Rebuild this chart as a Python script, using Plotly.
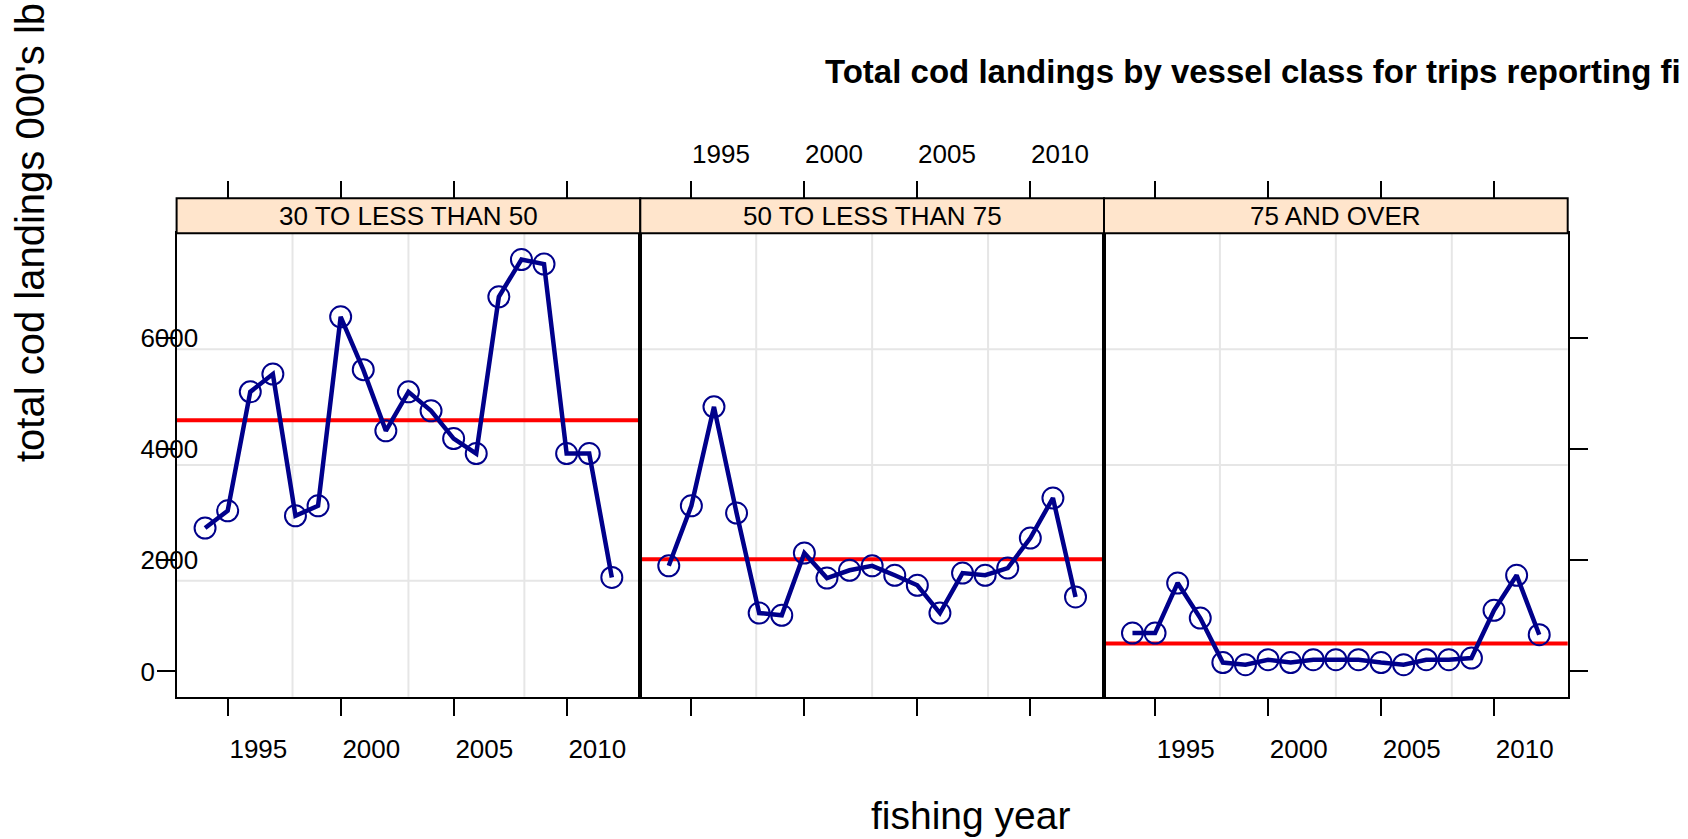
import plotly.graph_objects as go

# ---------------- data ----------------
years = list(range(1994, 2013))
panel_labels = ["30 TO LESS THAN 50", "50 TO LESS THAN 75", "75 AND OVER"]
landings_30_50 = [2580, 2890, 5030, 5350, 2800, 2980, 6380, 5430, 4330, 5030,
                  4690, 4190, 3920, 6740, 7410, 7330, 3920, 3920, 1690]
landings_50_75 = [1900, 2980, 4760, 2850, 1050, 1010, 2130, 1680, 1820, 1900,
                  1730, 1550, 1050, 1770, 1730, 1860, 2400, 3120, 1340]
landings_75_over = [690, 690, 1590, 960, 160, 120, 210, 160, 210, 210,
                    210, 160, 120, 210, 210, 240, 1100, 1730, 660]
panel_means = [4520, 2020, 500]
x_ticks = [1995, 2000, 2005, 2010]
y_ticks = [0, 2000, 4000, 6000]
x_range = [1992.74, 2013.26]
y_range = [-455, 7883]

title_text = "Total cod landings by vessel class for trips reporting fi"
x_title = "fishing year"
y_title = "total cod landings 000's lb"

# ---------------- geometry / style ----------------
W, H = 1688, 839
FONT = "Liberation Sans, Arial, sans-serif"
panel_left, panel_w = 176.6, 463.7
plot_top_px, plot_bot_px, strip_top_px = 233.3, 696.7, 198.3
y_dom = [(H - plot_bot_px) / H, (H - plot_top_px) / H]
strip_y = [(H - plot_top_px) / H, (H - strip_top_px) / H]
LINE_COL = "#00008B"
TICK_FONT = dict(size=26, color="black", family=FONT)

series = [landings_30_50, landings_50_75, landings_75_over]

fig = go.Figure()
layout = dict(
    width=W, height=H, template="none",
    margin=dict(l=0, r=0, t=0, b=0),
    paper_bgcolor="white", plot_bgcolor="white",
    showlegend=False,
    font=dict(family=FONT, color="black"),
)
shapes = []
annotations = []

tick_axis_common = dict(
    range=x_range, tickmode="array", tickvals=x_ticks,
    ticktext=[str(v) for v in x_ticks],
    ticks="outside", ticklen=17, tickwidth=1.5, tickcolor="black",
    showgrid=False, zeroline=False, tickfont=TICK_FONT,
    ticklabelposition="outside right",
)

for i, vals in enumerate(series):
    xa = "x" if i == 0 else f"x{i+1}"
    ya = "y" if i == 0 else f"y{i+1}"
    xkey = "xaxis" if i == 0 else f"xaxis{i+1}"
    ykey = "yaxis" if i == 0 else f"yaxis{i+1}"
    dom = [(panel_left + i * panel_w) / W, (panel_left + (i + 1) * panel_w) / W]

    fig.add_trace(go.Scatter(
        x=years, y=vals, xaxis=xa, yaxis=ya, mode="lines+markers",
        line=dict(color=LINE_COL, width=4.5),
        marker=dict(symbol="circle-open", size=21, color=LINE_COL,
                    line=dict(width=2, color=LINE_COL)),
        hoverinfo="skip", showlegend=False, cliponaxis=False))
    # invisible trace that carries the top (strip-level) tick axis
    fig.add_trace(go.Scatter(
        x=years, y=vals, xaxis=f"x{i+4}", yaxis=ya, mode="lines",
        line=dict(width=0), opacity=0, hoverinfo="skip", showlegend=False))

    layout[xkey] = dict(
        **tick_axis_common, domain=dom, anchor=ya,
        showline=True, linewidth=2, linecolor="black", mirror=True,
        showticklabels=(i != 1), ticklabelstandoff=28)
    layout[f"xaxis{i+4}"] = dict(
        **tick_axis_common, overlaying=xa, anchor="free",
        position=strip_y[1], side="top", showline=False,
        showticklabels=(i == 1), ticklabelstandoff=25)

    yax = dict(domain=y_dom, range=y_range, anchor=xa, tickmode="array",
               tickvals=y_ticks, ticktext=[str(v) for v in y_ticks],
               showgrid=False, zeroline=False, showline=True, linewidth=2,
               linecolor="black", mirror=True, tickfont=TICK_FONT)
    if i == 0:
        yax.update(ticks="outside", ticklen=18, tickwidth=1.5, tickcolor="black",
                   showticklabels=True, ticklabelposition="inside",
                   ticklabelstandoff=-34)
    elif i == 1:
        yax.update(ticks="", showticklabels=False)
    else:
        yax.update(side="right", ticks="outside", ticklen=18, tickwidth=1.5,
                   tickcolor="black", showticklabels=False)
    layout[ykey] = yax

    # panel grid (equally spaced reference lines)
    for f in (0.25, 0.5, 0.75):
        shapes.append(dict(type="line", xref=f"{xa} domain", yref=f"{ya} domain",
                           x0=f, x1=f, y0=0, y1=1, layer="below",
                           line=dict(color="#E6E6E6", width=2)))
        shapes.append(dict(type="line", xref=f"{xa} domain", yref=f"{ya} domain",
                           x0=0, x1=1, y0=f, y1=f, layer="below",
                           line=dict(color="#E6E6E6", width=2)))
    # mean line
    shapes.append(dict(type="line", xref=f"{xa} domain", yref=ya,
                       x0=0, x1=1, y0=panel_means[i], y1=panel_means[i],
                       layer="below", line=dict(color="red", width=4)))
    # strip
    shapes.append(dict(type="rect", xref="paper", yref="paper",
                       x0=dom[0], x1=dom[1], y0=strip_y[0], y1=strip_y[1],
                       fillcolor="#FFE5CC", line=dict(color="black", width=2),
                       layer="above"))
    annotations.append(dict(text=panel_labels[i], xref="paper", yref="paper",
                            x=(dom[0] + dom[1]) / 2, y=(strip_y[0] + strip_y[1]) / 2,
                            xanchor="center", yanchor="middle", showarrow=False,
                            font=dict(size=26, color="black", family=FONT)))

annotations.append(dict(text=f"<b>{title_text}</b>", xref="paper", yref="paper",
                        x=823 / W, y=(H - 71) / H, xanchor="left", yanchor="middle",
                        showarrow=False, font=dict(size=33, color="black", family=FONT)))
annotations.append(dict(text=y_title, xref="paper", yref="paper",
                        x=30 / W, y=(H - 233) / H, xanchor="center", yanchor="middle",
                        textangle=-90, showarrow=False,
                        font=dict(size=40, color="black", family=FONT)))
annotations.append(dict(text=x_title, xref="paper", yref="paper",
                        x=869 / W, y=0, xanchor="left", yanchor="bottom",
                        showarrow=False, font=dict(size=39, color="black", family=FONT)))

layout["shapes"] = shapes
layout["annotations"] = annotations
fig.update_layout(**layout)

fig.write_html("out.html", config={"displayModeBar": False},
               post_script="document.body.style.margin='0';document.body.style.overflow='hidden';")
